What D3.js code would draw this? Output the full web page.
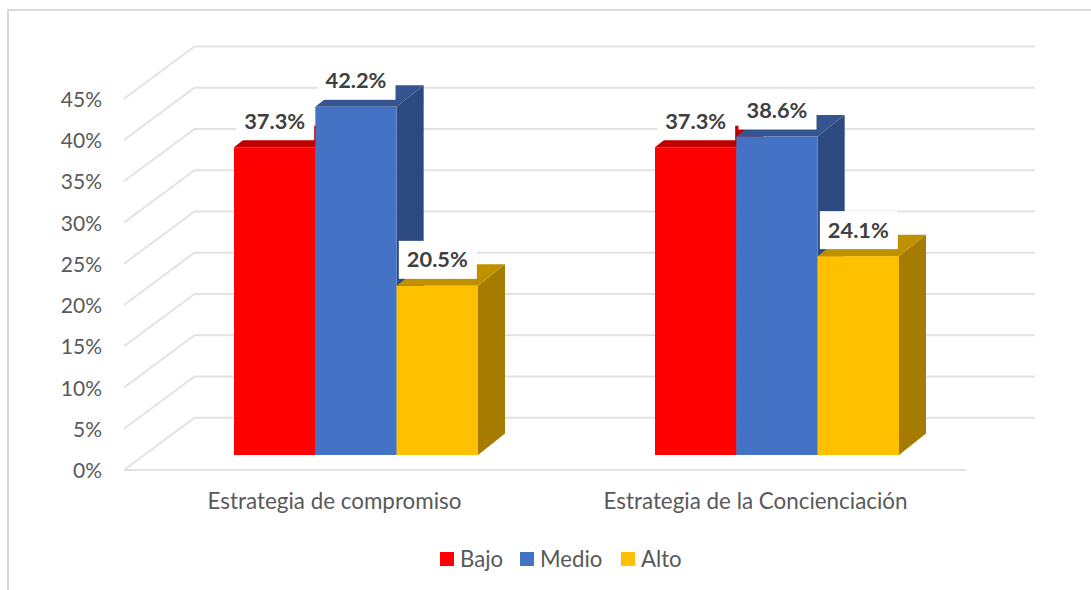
<!DOCTYPE html>
<html>
<head>
<meta charset="utf-8">
<script src="https://cdnjs.cloudflare.com/ajax/libs/d3/7.8.5/d3.min.js"></script>
<style>
  body { margin: 0; background: #fff; }
  svg { display: block; font-family: Lato, "Open Sans", sans-serif; }
  .tick text { fill: #595959; }
</style>
</head>
<body>
<svg id="chart" width="1091" height="590"></svg>
<script>
const categories = ['Estrategia de compromiso', 'Estrategia de la Concienciación']
const series = ['Bajo', 'Medio', 'Alto']
const bajo = [37.3, 37.3]
const medio = [42.2, 38.6]
const alto = [20.5, 24.1]
const yTicks = [0, 5, 10, 15, 20, 25, 30, 35, 40, 45]

const frontColors = ['#ff0000', '#4472c4', '#ffc000']
const topColors = ['#c00000', '#34558f', '#bf9000']
const sideColors = ['#a00000', '#2c4a80', '#a67c00']

const values = [bajo, medio, alto]

const svg = d3.select('#chart')

// chart frame, only top and left show in the picture
svg.append('path')
  .attr('d', 'M8,590V10H1091')
  .attr('fill', 'none')
  .attr('stroke', '#d9d9d9')
  .attr('stroke-width', 2)

const y = d3.scaleLinear().domain([0, 45]).range([470, 98.7])
const x = d3.scaleBand().domain(categories).range([124, 966])
const xInner = d3.scaleBand().domain(series).range([-122, 122])

// 3d offsets of the floor and of the bars
const wallDx = 70.5
const wallDy = 52.3
const barDx = 27
const barDy = 21.5
const barShiftX = 21.5
const barShiftY = 15

// gridlines: diagonal on the side wall, flat on the back wall
const grid = svg.append('g')
  .attr('fill', 'none')
  .attr('stroke', '#e2e2e2')
  .attr('stroke-width', 2)

grid.selectAll('path')
  .data(yTicks)
  .enter()
  .append('path')
  .attr('d', d => `M${x.range()[0]},${y(d)}L${x.range()[0] + wallDx},${y(d) - wallDy}H1035`)

grid.append('line')
  .attr('x1', x.range()[0])
  .attr('x2', x.range()[1])
  .attr('y1', y(0))
  .attr('y2', y(0))

// axes
const yAxis = d3.axisLeft(y).tickValues(yTicks).tickSize(0).tickPadding(0).tickFormat(d => d + '%')
svg.append('g')
  .attr('transform', 'translate(102,1)')
  .call(yAxis)
  .call(g => g.select('.domain').remove())
  .selectAll('text')
  .style('font-size', '21px')
  .style('font-family', 'Lato, sans-serif')

const xAxis = d3.axisBottom(x).tickSize(0).tickPadding(0)
svg.append('g')
  .attr('transform', 'translate(0,493.5)')
  .call(xAxis)
  .call(g => g.select('.domain').remove())
  .selectAll('text')
  .style('font-size', '22.4px')
  .style('font-family', 'Lato, sans-serif')

// bars, series by series so that each one covers the side of the previous one
const bars = svg.append('g')

function barBox(s, c) {
  let left = x(categories[c]) + x.bandwidth() / 2 + barShiftX + xInner(series[s])
  let right = left + xInner.bandwidth()
  let bottom = y(0) - barShiftY
  let top = bottom - (y(0) - y(values[s][c]))
  return { left, right, top, bottom }
}

series.forEach((name, s) => {
  categories.forEach((cat, c) => {
    let b = barBox(s, c)
    bars.append('path')
      .attr('fill', sideColors[s])
      .attr('d', `M${b.right},${b.top}l${barDx},${-barDy}V${b.bottom - barDy}L${b.right},${b.bottom}Z`)
    bars.append('path')
      .attr('fill', topColors[s])
      .attr('d', `M${b.left},${b.top}l${barDx},${-barDy}H${b.right + barDx}L${b.right},${b.top}Z`)
    bars.append('rect')
      .attr('x', b.left)
      .attr('y', b.top)
      .attr('width', b.right - b.left)
      .attr('height', b.bottom - b.top)
      .attr('fill', frontColors[s])
  })
})

// value labels on white boxes
const labels = svg.append('g')
series.forEach((name, s) => {
  categories.forEach((cat, c) => {
    let b = barBox(s, c)
    let cx = (b.left + b.right) / 2
    labels.append('rect')
      .attr('x', cx - 38.5)
      .attr('y', b.top - 45)
      .attr('width', 78)
      .attr('height', 38)
      .attr('fill', '#fff')
    labels.append('text')
      .attr('x', cx)
      .attr('y', b.top - 26)
      .attr('dy', '.35em')
      .attr('text-anchor', 'middle')
      .attr('font-size', 21.8)
      .attr('font-weight', 700)
      .attr('fill', '#404040')
      .text(values[s][c].toFixed(1) + '%')
  })
})

// legend
const legendX = [440, 520, 621]
const legend = svg.append('g')
series.forEach((name, s) => {
  legend.append('rect')
    .attr('x', legendX[s])
    .attr('y', 552)
    .attr('width', 14)
    .attr('height', 14)
    .attr('fill', frontColors[s])
  legend.append('text')
    .attr('x', legendX[s] + 20)
    .attr('y', 566.5)
    .attr('font-size', 22.2)
    .attr('fill', '#595959')
    .text(name)
})
</script>
</body>
</html>
